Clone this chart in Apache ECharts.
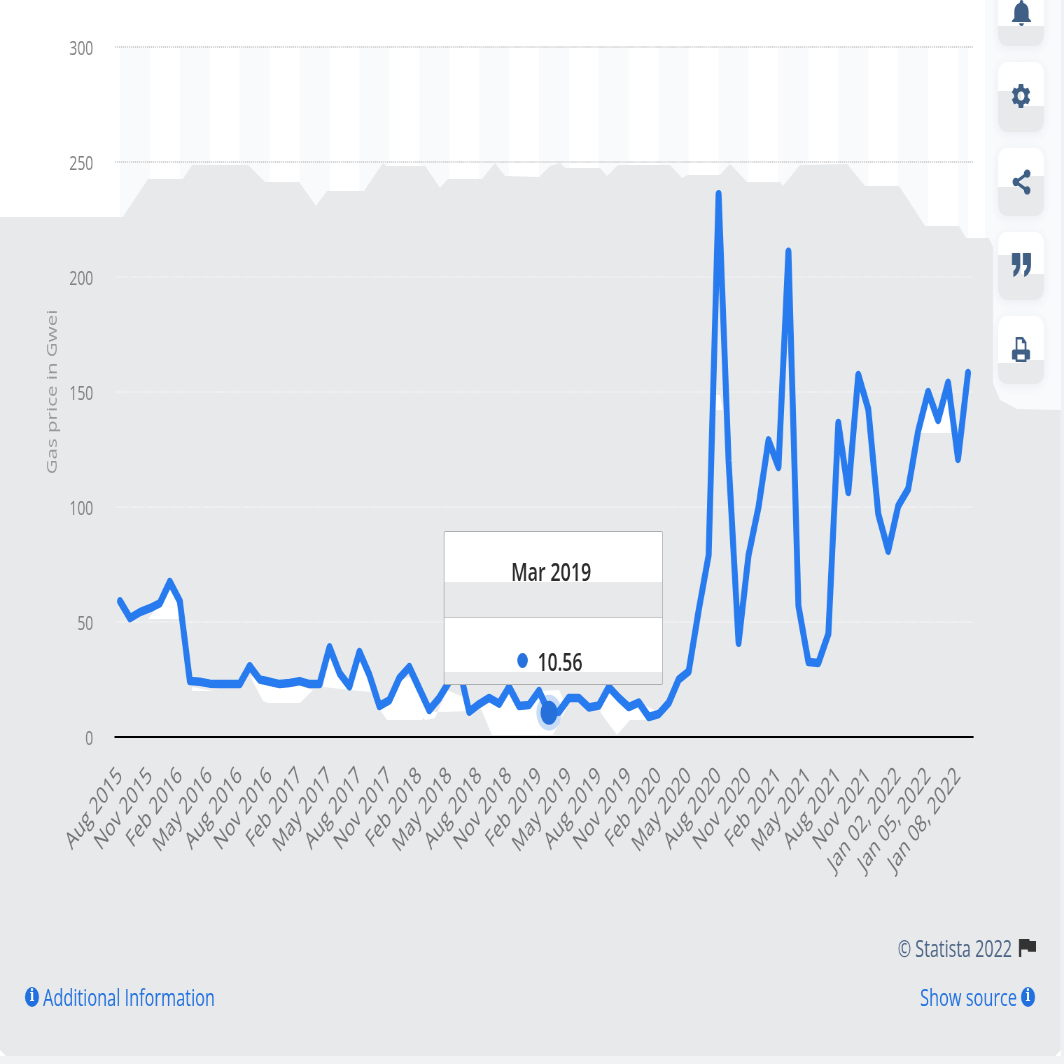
<!DOCTYPE html>
<html><head><meta charset="utf-8">
<style>
html,body{margin:0;padding:0;width:1064px;height:1064px;overflow:hidden;background:#fff}
#wrap{position:absolute;left:0;top:0;width:1064px;height:1064px;overflow:hidden}
#c{position:absolute;left:0;top:0;width:1520px;height:1064px;transform-origin:0 0;transform:scale(0.7,1)}
</style>
<script src="https://cdn.jsdelivr.net/npm/echarts@6/dist/echarts.min.js"></script>
</head><body><div id="wrap"><div id="c"></div></div>
<script>
const categories = ["Aug 2015","Sep 2015","Oct 2015","Nov 2015","Dec 2015","Jan 2016","Feb 2016","Mar 2016","Apr 2016","May 2016","Jun 2016","Jul 2016","Aug 2016","Sep 2016","Oct 2016","Nov 2016","Dec 2016","Jan 2017","Feb 2017","Mar 2017","Apr 2017","May 2017","Jun 2017","Jul 2017","Aug 2017","Sep 2017","Oct 2017","Nov 2017","Dec 2017","Jan 2018","Feb 2018","Mar 2018","Apr 2018","May 2018","Jun 2018","Jul 2018","Aug 2018","Sep 2018","Oct 2018","Nov 2018","Dec 2018","Jan 2019","Feb 2019","Mar 2019","Apr 2019","May 2019","Jun 2019","Jul 2019","Aug 2019","Sep 2019","Oct 2019","Nov 2019","Dec 2019","Jan 2020","Feb 2020","Mar 2020","Apr 2020","May 2020","Jun 2020","Jul 2020","Aug 2020","Sep 2020","Oct 2020","Nov 2020","Dec 2020","Jan 2021","Feb 2021","Mar 2021","Apr 2021","May 2021","Jun 2021","Jul 2021","Aug 2021","Sep 2021","Oct 2021","Nov 2021","Dec 2021","Jan 01, 2022","Jan 02, 2022","Jan 03, 2022","Jan 04, 2022","Jan 05, 2022","Jan 06, 2022","Jan 07, 2022","Jan 08, 2022","Jan 09, 2022"];
const gasPrice = [59,51.7,54.3,56,58.2,67.4,59,24.3,24,23.2,23,23,23,30.8,25,24,23,23.5,24.3,23,23,39,27.8,22,37,27,13.5,16,25.6,30.4,21,11.7,17,24,30,11,14.3,17,14.5,21.7,13.5,13.9,20,10.56,11,17,17,12.8,13.7,21.7,17,13,15,8.7,10,14.8,25,28.5,55,79,236,120,41,79,100,129,117.4,211,57,32.6,32.2,44.8,136.5,106.5,157.4,142.6,97,81,100.4,107.8,133,150,137.8,154,120.9,158.3];
const highlightIndex = 43;
const yTitle = "Gas price in Gwei";

const SX = 0.7;
const px = p => p.map(([x,y]) => [x/SX, y]);
const GRAY = '#e8e9eb', WHITE = '#ffffff';
const contour = [[0,217],[123,217],[148,179],[183,179],[192,165],[248,165],[265,182],[299,182],[316,206],[327,191],[364,191],[383,163],[386,166],[425,166],[440,188],[448,179],[482,179],[495,163],[505,176],[539,177],[550,166],[560,163],[565,168],[600,168],[607,176],[618,165],[670,165],[682,178],[688,175],[720,175],[730,164],[747,182],[780,182],[783,186],[800,165],[847,164],[865,186],[899,186],[925,226],[959,226],[966,238],[989,238],[993,247],[993,383],[1000,400],[1017,409],[1061,410],[1061,1050],[1055,1056],[6,1056],[0,1050]];
const whiteBits = [
 [[148,619],[160,604],[170,590],[180,604],[180,619]],
 [[192,687],[213,691],[192,691]],
 [[250,676],[263,701],[268,703],[300,703],[313,690],[300,686],[280,688],[260,680]],
 [[323,687],[330,655],[337,672],[350,690]],
 [[359,660],[373,677],[370,692],[350,690]],
 [[380,710],[387,720],[422,720],[428,713],[410,677],[400,680],[390,703]],
 [[420,712],[425,720],[435,718],[447,690],[470,700],[470,711],[445,712]],
 [[480,707],[492,735],[553,735],[567,707],[559,690],[539,691],[529,706],[519,707],[509,687],[499,704],[489,696]],
 [[600,712],[617,735],[630,720],[650,720],[660,713],[638,702],[629,707],[620,697],[609,687]],
 [[716,395],[713,410],[723,410],[720,395]],
 [[917,433],[928,400],[938,423],[948,393],[955,433]]
];
const cards = [[-24,46,26,26],[62,132,91,106],[148,216,187,176],[232,300,255,274],[316,384,363,360]];
const CARD_L = 998, CARD_R = 1044, CARD_M = 1021;
const ICON = '#3f5f85', LINK = '#2070e0';
const paths = {
 bell:"M12 22c1.1 0 2-.9 2-2h-4c0 1.1.89 2 2 2zm6-6v-5c0-3.07-1.64-5.64-4.5-6.32V4c0-.83-.67-1.5-1.5-1.5s-1.5.67-1.5 1.5v.68C7.63 5.36 6 7.92 6 11v5l-2 2v1h16v-1l-2-2z",
 gear:"M19.14 12.94c.04-.3.06-.61.06-.94 0-.32-.02-.64-.07-.94l2.03-1.58c.18-.14.23-.41.12-.61l-1.92-3.32c-.12-.22-.37-.29-.59-.22l-2.39.96c-.5-.38-1.03-.7-1.62-.94l-.36-2.54c-.04-.24-.24-.41-.48-.41h-3.84c-.24 0-.43.17-.47.41l-.36 2.54c-.59.24-1.13.57-1.62.94l-2.39-.96c-.22-.08-.47 0-.59.22L2.74 8.87c-.12.21-.08.47.12.61l2.03 1.58c-.05.3-.09.63-.09.94s.02.64.07.94l-2.03 1.58c-.18.14-.23.41-.12.61l1.92 3.32c.12.22.37.29.59.22l2.39-.96c.5.38 1.03.7 1.62.94l.36 2.54c.05.24.24.41.48.41h3.84c.24 0 .44-.17.47-.41l.36-2.54c.59-.24 1.13-.56 1.62-.94l2.39.96c.22.08.47 0 .59-.22l1.92-3.32c.12-.22.07-.47-.12-.61l-2.01-1.58zM12 15.6c-1.98 0-3.6-1.62-3.6-3.6s1.62-3.6 3.6-3.6 3.6 1.62 3.6 3.6-1.62 3.6-3.6 3.6z",
 share:"M18 16.08c-.76 0-1.44.3-1.96.77L8.91 12.7c.05-.23.09-.46.09-.7s-.04-.47-.09-.7l7.05-4.11c.54.5 1.25.81 2.04.81 1.66 0 3-1.34 3-3s-1.34-3-3-3-3 1.34-3 3c0 .24.04.47.09.7L8.04 9.81C7.5 9.31 6.79 9 6 9c-1.66 0-3 1.34-3 3s1.34 3 3 3c.79 0 1.5-.31 2.04-.81l7.12 4.16c-.05.21-.08.43-.08.65 0 1.61 1.31 2.92 2.92 2.92s2.92-1.31 2.92-2.92-1.31-2.92-2.92-2.92z",
 quote:"M5 7h6v6c0 3-2 5-5 6v-3c1-.5 2-1.2 2-3H5z M13 7h6v6c0 3-2 5-5 6v-3c1-.5 2-1.2 2-3h-3z",
 print:"M6 2h8l4 4v6h2a2 2 0 0 1 2 2v5a1 1 0 0 1-1 1h-3v2H6v-2H3a1 1 0 0 1-1-1v-5a2 2 0 0 1 2-2h2z M8 4v8h8V7h-3V4z M8 16v4h8v-4z",
 flag:"M14.4 6L14 4H5v17h2v-7h5.6l.4 2h7V6z"
};
Object.keys(paths).forEach(k=>echarts.graphic.registerShape('icon_'+k,echarts.graphic.extendPath(paths[k],{})));
const icon = (k,x0,y0,x1,y1,fill,sw) => {
  const br = echarts.graphic.makePath(paths[k],{}).getBoundingRect();
  const sx=(x1-x0)/SX/br.width, sy=(y1-y0)/br.height;
  const style = {fill:fill||ICON};
  if(sw){style.stroke=fill||ICON;style.lineWidth=sw;}
  return {type:'icon_'+k,z:4,silent:true,x:x0/SX-br.x*sx,y:y0-br.y*sy,scaleX:sx,scaleY:sy,style};
};
const rect = (x0,y0,x1,y1,fill,r,extra,z) => ({type:'rect',z:z||3,silent:true,shape:{x:x0/SX,y:y0,width:(x1-x0)/SX,height:y1-y0,r:r||0},style:Object.assign({fill},extra||{})});
const FONT = '"Open Sans", "Noto Sans", sans-serif';
const info = (cx,cy) => [
 {type:'circle',z:4,silent:true,shape:{cx:cx/SX,cy,r:10},style:{fill:LINK}},
 {type:'text',z:5,silent:true,x:cx/SX,y:cy,style:{text:'i',fill:'#fff',font:'bold 17px "DejaVu Serif",serif',align:'center',verticalAlign:'middle'}}
];
const label = (text,x,y,align,fill,size) => ({type:'text',z:4,silent:true,x:x/SX,y,style:{text,fill,font:`${size}px ${FONT}`,align,verticalAlign:'middle'}});

const graphics = [];
graphics.push(rect(985,0,1061,420,'#f9fafc',0,null,1));
graphics.push(rect(1061,0,1064,1064,'#eff0f3'));
graphics.push(rect(0,1056,1064,1064,'#f1f2f4'));
graphics.push({type:'polygon',z:2,silent:true,shape:{points:px(contour)},style:{fill:GRAY}});
whiteBits.forEach(b=>graphics.push({type:'polygon',z:3,silent:true,shape:{points:px(b)},style:{fill:WHITE}}));
cards.forEach(([t,b,l,rr])=>{
  graphics.push(rect(CARD_L,t,CARD_R,b,WHITE,12,{shadowBlur:12,shadowColor:'rgba(40,60,90,0.07)',shadowOffsetY:2}));
  graphics.push(rect(CARD_L,l,CARD_M,b,GRAY,[0,0,0,12]));
  graphics.push(rect(CARD_M,rr,CARD_R,b,GRAY,[0,0,12,0]));
});
graphics.push(icon('bell',1012,0,1031,26));
graphics.push(icon('gear',1012,84,1030,108));
graphics.push(icon('share',1013,170,1030,194,ICON,1));
graphics.push(icon('quote',1012,253,1031,277));
graphics.push(icon('print',1012,337,1030,362));
graphics.push(icon('flag',1019,939,1036,957,'#333'));
graphics.push(label('© Statista 2022',1012,950,'right','#4a6484',23));
graphics.push(label('Additional Information',43,999,'left',LINK,23.3));
graphics.push(label('Show source',1017,999,'right',LINK,23.3));
graphics.push(...info(32,997),...info(1028,997));

const bandStarts = [];
for(let i=0;i<categories.length;i+=6) bandStarts.push(i);
const bands = bandStarts.map(i=>[{xAxis:categories[i]},{xAxis:categories[Math.min(i+3,categories.length-1)]}]);

const chart = echarts.init(document.getElementById('c'),null,{renderer:'canvas'});
chart.setOption({
 animation:false,
 backgroundColor:'#ffffff',
 grid:{left:115/SX,width:858/SX,top:47,height:690,containLabel:false},
 graphic:{elements:graphics},
 tooltip:{trigger:'axis',alwaysShowContent:true,transitionDuration:0,padding:0,borderWidth:0,backgroundColor:'transparent',extraCssText:'box-shadow:none;',
  axisPointer:{type:'none'},
  position:()=>[443.5/SX,531],
  formatter:ps=>{const p=ps.find(q=>q.seriesIndex===1)||ps[0];
   return `<div style="box-sizing:border-box;width:${219/SX}px;height:154px;border:1px solid #aeaeae;border-radius:2px;position:relative;font-family:'Open Sans','Noto Sans',sans-serif;color:#2b2b2b;
    background:linear-gradient(to bottom,#fff 0,#fff 50px,${GRAY} 50px,${GRAY} 85px,#c8c9cb 85px,#c8c9cb 86px,#fff 86px,#fff 140px,${GRAY} 140px,${GRAY} 100%)">
    <div style="position:absolute;left:0;right:6px;top:23px;text-align:center;font-size:25.5px;font-weight:600;line-height:32px">${p.name}</div>
    <div style="position:absolute;left:0;right:10px;top:112px;text-align:center;font-size:25px;font-weight:600;line-height:34px"><span style="display:inline-block;width:15px;height:15px;border-radius:50%;background:#2772de;margin-right:14px;vertical-align:3px"></span>${p.value}</div></div>`;}
 },
 xAxis:{type:'category',data:categories,z:5,boundaryGap:true,
  axisTick:{show:false},axisLine:{lineStyle:{color:'#000',width:2}},
  axisLabel:{interval:2,rotate:45,margin:35,fontSize:24,fontFamily:FONT,color:'#757575',hideOverlap:false},
  splitLine:{show:false}},
 yAxis:{type:'value',min:0,max:300,interval:50,z:5,
  name:yTitle,nameLocation:'middle',nameGap:79,nameRotate:90,nameTextStyle:{fontSize:20.5,fontFamily:FONT,color:'#999'},
  axisLine:{show:false},axisTick:{show:false},
  axisLabel:{margin:31,formatter:'{a|{value}}',rich:{a:{fontSize:20,fontFamily:FONT,color:'#808080',padding:[5,0,0,0]}}},
  splitLine:{show:true,lineStyle:{type:[1.43,1.43],width:2,color:['#000','#f4f4f5','#f4f4f5','#f4f4f5','#f2f2f3','#cfcfcf','#cfcfcf']}}},
 series:[
  {name:'bands',type:'line',z:1,silent:true,data:[],tooltip:{show:false},markArea:{silent:true,z:1,itemStyle:{color:'#f9fafc'},data:bands}},
  {name:'Gas price',type:'line',z:10,data:gasPrice,showSymbol:false,symbol:'none',smooth:false,
   lineStyle:{color:'#2570da',width:8.5,cap:'round',join:'round'},
   markPoint:{silent:true,z:11,animation:false,label:{show:false},
    data:[
     {coord:[highlightIndex,gasPrice[highlightIndex]],symbol:'circle',symbolSize:36,itemStyle:{color:'rgba(39,114,222,0.25)'}},
     {coord:[highlightIndex,gasPrice[highlightIndex]],symbol:'circle',symbolSize:24,itemStyle:{color:'#2570da'}}
    ]}}
 ]
});
chart.dispatchAction({type:'showTip',seriesIndex:1,dataIndex:highlightIndex});
</script></body></html>
